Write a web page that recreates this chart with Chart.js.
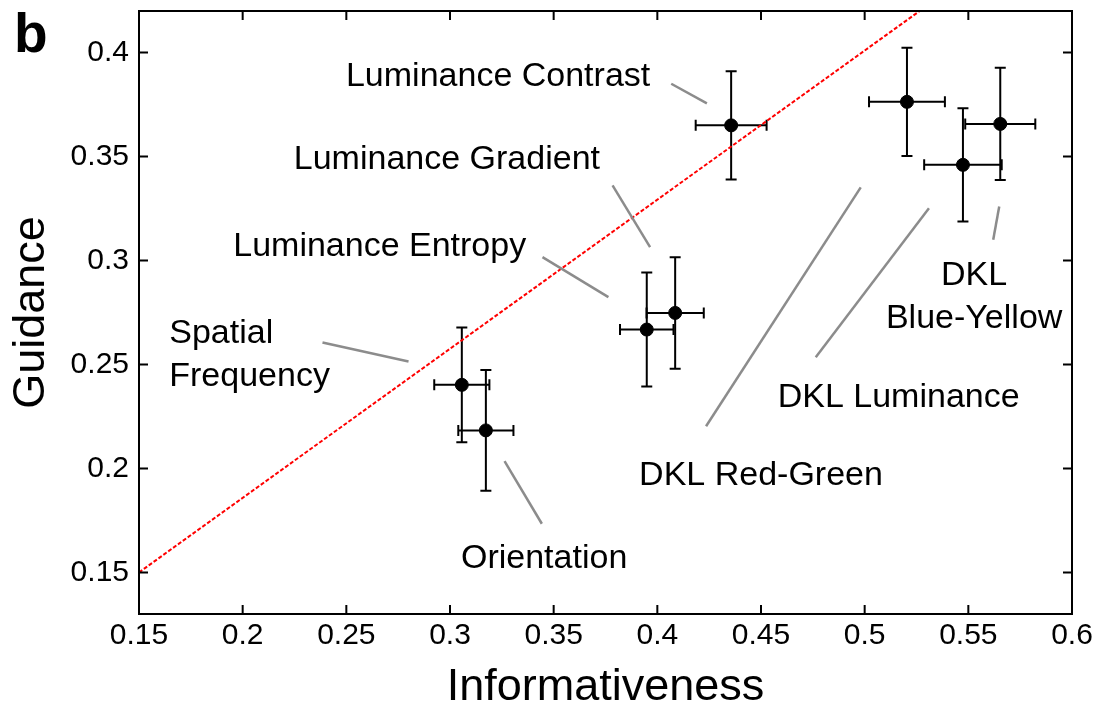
<!DOCTYPE html>
<html>
<head>
<meta charset="utf-8">
<script src="https://cdn.jsdelivr.net/npm/chart.js@4.4.1/dist/chart.umd.min.js"></script>
<style>
  body { margin: 0; background: #fff; }
  #wrap { width: 1104px; height: 712px; }
</style>
</head>
<body>
<div id="wrap"><canvas id="guidance"></canvas></div>
<script>
const features = ['Luminance Contrast', 'Luminance Gradient', 'Luminance Entropy', 'Spatial Frequency',
  'Orientation', 'DKL Red-Green', 'DKL Luminance', 'DKL Blue-Yellow'];
const informativeness = [0.4356, 0.4086, 0.3949, 0.3057, 0.3173, 0.5204, 0.5474, 0.5654];
const guidance = [0.365, 0.2748, 0.2668, 0.2402, 0.2183, 0.3763, 0.346, 0.3657];
const informErr = [0.0171, 0.0138, 0.0129, 0.0133, 0.0133, 0.0183, 0.0187, 0.0169];
const guidanceErr = [0.026, 0.0268, 0.0274, 0.0276, 0.029, 0.026, 0.0272, 0.027];

// regression line end points
const fitX = [0.15, 0.6];
const fitY = [0.15, 0.4727];

const xTicks = [0.15, 0.2, 0.25, 0.3, 0.35, 0.4, 0.45, 0.5, 0.55, 0.6];
const yTicks = [0.15, 0.2, 0.25, 0.3, 0.35, 0.4];

// where each feature name is written (data units, middle of first line)
const labelSpots = [
  { lines: ['Luminance Contrast'], x: 0.3232, y: 0.3885, align: 'center' },
  { lines: ['Luminance Gradient'], x: 0.2985, y: 0.3487, align: 'center' },
  { lines: ['Luminance Entropy'], x: 0.2661, y: 0.3067, align: 'center' },
  { lines: ['Spatial', 'Frequency'], x: 0.1646, y: 0.2649, align: 'left' },
  { lines: ['Orientation'], x: 0.3454, y: 0.1567, align: 'center' },
  { lines: ['DKL Red-Green'], x: 0.45, y: 0.1966, align: 'center' },
  { lines: ['DKL Luminance'], x: 0.5164, y: 0.2341, align: 'center' },
  { lines: ['DKL', 'Blue-Yellow'], x: 0.5528, y: 0.2928, align: 'center' },
];
// grey pointer lines, [x1, y1, x2, y2] in data units
const leaders = [
  [0.4067, 0.3850, 0.4239, 0.3756],
  [0.3784, 0.3361, 0.3965, 0.3064],
  [0.3446, 0.3016, 0.3764, 0.2824],
  [0.2385, 0.2606, 0.2800, 0.2514],
  [0.3263, 0.2035, 0.3443, 0.1734],
  [0.4981, 0.3352, 0.4235, 0.2203],
  [0.5310, 0.3251, 0.4764, 0.2535],
  [0.5649, 0.3260, 0.5620, 0.3100],
];

const FONT = "'Liberation Sans', Arial, sans-serif";

const decorations = {
  id: 'decorations',
  beforeDatasetsDraw(chart) {
    const { ctx, scales: { x, y } } = chart;
    const cap = 5.5;
    ctx.save();
    ctx.strokeStyle = '#000';
    ctx.lineWidth = 2;
    informativeness.forEach((v, i) => {
      const px = x.getPixelForValue(v);
      const py = y.getPixelForValue(guidance[i]);
      const x0 = x.getPixelForValue(v - informErr[i]);
      const x1 = x.getPixelForValue(v + informErr[i]);
      const y0 = y.getPixelForValue(guidance[i] - guidanceErr[i]);
      const y1 = y.getPixelForValue(guidance[i] + guidanceErr[i]);
      ctx.beginPath();
      ctx.moveTo(x0, py); ctx.lineTo(x1, py);
      ctx.moveTo(x0, py - cap); ctx.lineTo(x0, py + cap);
      ctx.moveTo(x1, py - cap); ctx.lineTo(x1, py + cap);
      ctx.moveTo(px, y0); ctx.lineTo(px, y1);
      ctx.moveTo(px - cap, y0); ctx.lineTo(px + cap, y0);
      ctx.moveTo(px - cap, y1); ctx.lineTo(px + cap, y1);
      ctx.stroke();
    });
    ctx.restore();
  },
  afterDraw(chart) {
    const { ctx, chartArea: a, scales: { x, y } } = chart;
    ctx.save();

    // pointer lines
    ctx.strokeStyle = '#8c8c8c';
    ctx.lineWidth = 2.5;
    leaders.forEach(([x1, y1, x2, y2]) => {
      ctx.beginPath();
      ctx.moveTo(x.getPixelForValue(x1), y.getPixelForValue(y1));
      ctx.lineTo(x.getPixelForValue(x2), y.getPixelForValue(y2));
      ctx.stroke();
    });

    // feature names
    ctx.fillStyle = '#000';
    ctx.font = '34px ' + FONT;
    ctx.textBaseline = 'middle';
    const lineGap = 43;
    labelSpots.forEach(l => {
      ctx.textAlign = l.align;
      const lx = x.getPixelForValue(l.x);
      const ly = y.getPixelForValue(l.y);
      l.lines.forEach((t, k) => ctx.fillText(t, lx, ly + k * lineGap));
    });

    // box and inward ticks (matlab style)
    ctx.strokeStyle = '#000';
    ctx.lineWidth = 2;
    ctx.strokeRect(a.left, a.top, a.right - a.left, a.bottom - a.top);
    const tick = 9;
    ctx.beginPath();
    xTicks.forEach(v => {
      const px = x.getPixelForValue(v);
      ctx.moveTo(px, a.bottom); ctx.lineTo(px, a.bottom - tick);
      ctx.moveTo(px, a.top); ctx.lineTo(px, a.top + tick);
    });
    yTicks.forEach(v => {
      const py = y.getPixelForValue(v);
      ctx.moveTo(a.left, py); ctx.lineTo(a.left + tick, py);
      ctx.moveTo(a.right, py); ctx.lineTo(a.right - tick, py);
    });
    ctx.stroke();

    // panel letter
    ctx.font = 'bold 55px ' + FONT;
    ctx.textAlign = 'left';
    ctx.textBaseline = 'alphabetic';
    ctx.fillText('b', 14, 52);
    ctx.restore();
  }
};

const tickLabel = v => String(+v.toFixed(2));

new Chart(document.getElementById('guidance'), {
  type: 'scatter',
  data: {
    datasets: [
      {
        label: 'Features',
        data: informativeness.map((v, i) => ({ x: v, y: guidance[i] })),
        backgroundColor: '#000',
        borderColor: '#000',
        pointRadius: 6.5,
        pointHoverRadius: 6.5,
        order: 0,
      },
      {
        label: 'Fit',
        data: fitX.map((v, i) => ({ x: v, y: fitY[i] })),
        showLine: true,
        borderColor: '#ff0000',
        borderWidth: 2,
        borderDash: [4, 2],
        pointRadius: 0,
        order: 1,
      },
    ],
  },
  options: {
    responsive: true,
    maintainAspectRatio: false,
    animation: false,
    events: [],
    layout: { padding: { top: 11, right: 32, bottom: 0, left: 0 } },
    plugins: { legend: { display: false }, tooltip: { enabled: false } },
    scales: {
      x: {
        type: 'linear',
        min: 0.15,
        max: 0.6,
        afterBuildTicks: s => { s.ticks = xTicks.map(v => ({ value: v })); },
        afterFit: s => { s.height = 98; s.paddingLeft = 0; s.paddingRight = 0; },
        grid: { display: false, drawTicks: false },
        border: { display: false },
        ticks: { color: '#000', font: { family: FONT, size: 30 }, padding: 4, maxRotation: 0, autoSkip: false, callback: tickLabel },
        title: { display: true, text: 'Informativeness', color: '#000', font: { family: FONT, size: 45, lineHeight: 1.1 }, padding: { top: 0, bottom: 0 } },
      },
      y: {
        type: 'linear',
        min: 0.13,
        max: 0.42,
        afterBuildTicks: s => { s.ticks = yTicks.map(v => ({ value: v })); },
        afterFit: s => { s.width = 139; s.paddingTop = 0; s.paddingBottom = 0; },
        grid: { display: false, drawTicks: false },
        border: { display: false },
        ticks: { color: '#000', font: { family: FONT, size: 30 }, padding: 10, autoSkip: false, callback: tickLabel },
        title: { display: true, text: 'Guidance', color: '#000', font: { family: FONT, size: 45, lineHeight: 1.1 }, padding: { top: 7, bottom: 0 } },
      },
    },
  },
  plugins: [decorations],
});
</script>
</body>
</html>
